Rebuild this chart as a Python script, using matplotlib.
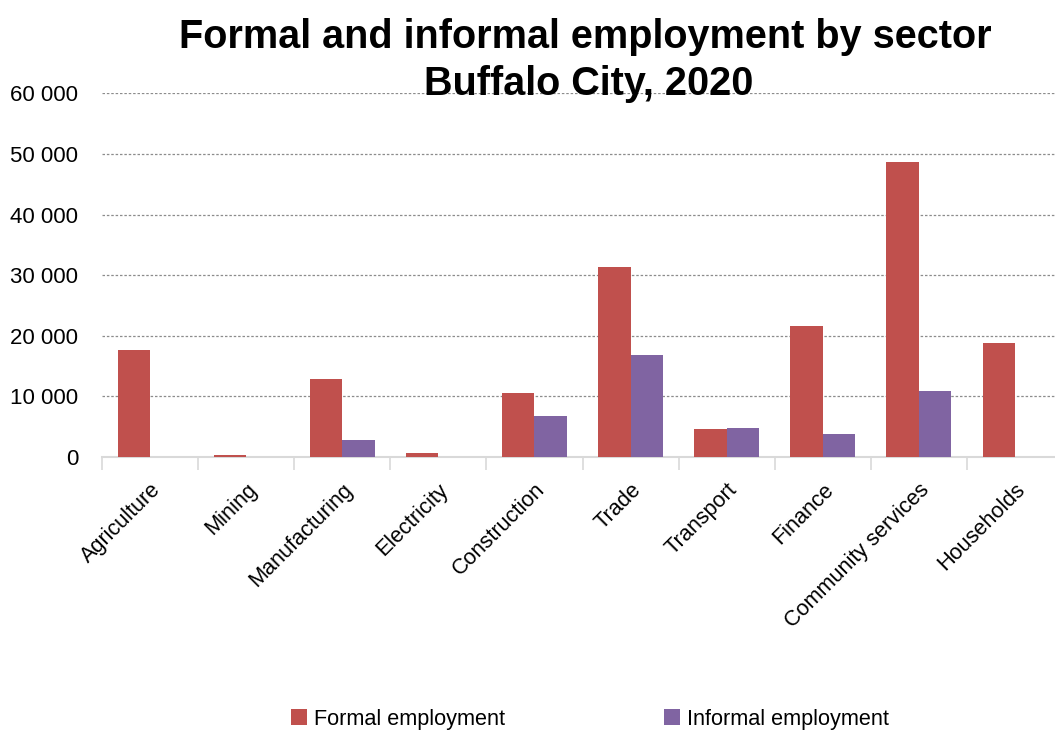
import matplotlib
matplotlib.use("Agg")
import matplotlib.pyplot as plt
from matplotlib import font_manager
import numpy as np

categories = ["Agriculture", "Mining", "Manufacturing", "Electricity", "Construction",
              "Trade", "Transport", "Finance", "Community services", "Households"]
formal = [17660, 350, 12900, 650, 10550, 31300, 4570, 21600, 48650, 18800]
informal = [0, 0, 2800, 0, 6750, 16800, 4830, 3750, 10850, 0]
yticks = [0, 10000, 20000, 30000, 40000, 50000, 60000]
ytick_labels = ["0", "10 000", "20 000", "30 000", "40 000", "50 000", "60 000"]

names = {f.name for f in font_manager.fontManager.ttflist}
fam = ["Liberation Sans Narrow"] if "Liberation Sans Narrow" in names else ["Liberation Sans"]
plt.rcParams['font.family'] = fam + ["DejaVu Sans"]

W, H = 1055, 734
fig = plt.figure(figsize=(W / 100, H / 100), dpi=100)
left, right, bottom, top = 102, 1063, 457, 93.4
ax = fig.add_axes([left / W, (H - bottom) / H, (right - left) / W, (bottom - top) / H])

x = np.arange(len(categories))
bw = 0.337
ax.bar(x - bw / 2, formal, bw, color="#C0504D", edgecolor="none", linewidth=0,
       label="Formal employment", zorder=5)
ax.bar(x + bw / 2, informal, bw, color="#8064A2", edgecolor="none", linewidth=0,
       label="Informal employment", zorder=5)

ax.set_xlim(-0.5, len(categories) - 0.5)
ax.set_ylim(0, 60000)
ax.set_yticks(yticks)
ax.set_yticklabels(ytick_labels, fontsize=16)
ax.tick_params(axis="y", length=0, pad=17)
ax.yaxis.grid(True, linestyle=(0, (2, 1.5)), color="#8C8C8C", linewidth=0.9, zorder=0)

ax.set_xticks(x)
ax.set_xticklabels(categories, rotation=45, ha="right", rotation_mode="anchor", fontsize=15.6)
ax.tick_params(axis="x", length=0, pad=16)
ax.set_xticks(np.arange(-0.5, len(categories), 1.0), minor=True)
ax.tick_params(axis="x", which="minor", length=9, width=1.2, color="#D9D9D9")

for s in ["top", "right", "left"]:
    ax.spines[s].set_visible(False)
ax.spines["bottom"].set_color("#D9D9D9")
ax.spines["bottom"].set_linewidth(1.5)
ax.spines["bottom"].set_zorder(4)

fig.text(585 / W, 1 - 37 / H, "Formal and informal employment by sector",
         ha="center", va="center", fontsize=28.5, fontweight="bold")
fig.text(589 / W, 1 - 84 / H, "Buffalo City, 2020",
         ha="center", va="center", fontsize=28.5, fontweight="bold")

h, l = ax.get_legend_handles_labels()
fig.legend(h, l, loc="center", bbox_to_anchor=(590 / W, 1 - 719 / H), ncol=2,
           frameon=False, fontsize=15.6, handlelength=0.75, handleheight=0.75,
           handletextpad=0.35, columnspacing=7.3)

fig.savefig("out.png", dpi=100)
